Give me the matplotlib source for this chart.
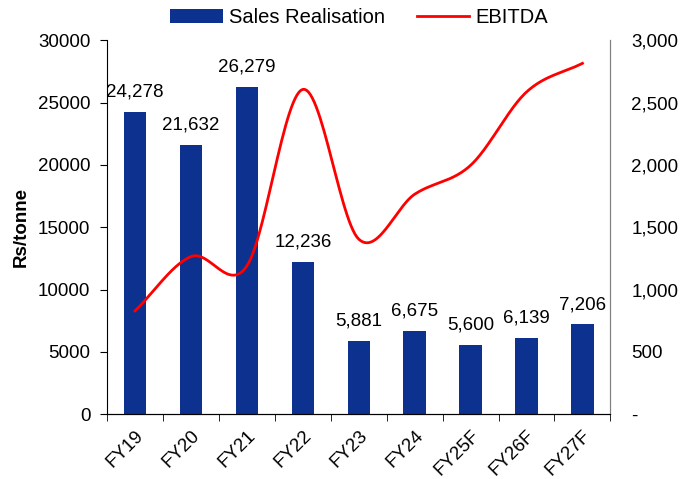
import matplotlib
matplotlib.use("Agg")
import matplotlib.pyplot as plt
from matplotlib.ticker import FuncFormatter
import numpy as np

plt.rcParams['font.family'] = ['Liberation Sans', 'DejaVu Sans']

years = ["FY19", "FY20", "FY21", "FY22", "FY23", "FY24", "FY25F", "FY26F", "FY27F"]
sales = [24278, 21632, 26279, 12236, 5881, 6675, 5600, 6139, 7206]
ebitda = [830, 1265, 1190, 2606, 1405, 1765, 1997, 2585, 2815]

bar_color = "#0c318f"
line_color = "#ff0000"


def smooth(xs, ys, n=30):
    # catmull-rom style curve through the points, like excel's smoothed line
    xs = np.asarray(xs, float)
    ys = np.asarray(ys, float)
    px = np.concatenate([[2 * xs[0] - xs[1]], xs, [2 * xs[-1] - xs[-2]]])
    py = np.concatenate([[2 * ys[0] - ys[1]], ys, [2 * ys[-1] - ys[-2]]])
    out_x, out_y = [], []
    t = np.linspace(0, 1, n)
    for i in range(1, len(px) - 2):
        for p, out in ((px, out_x), (py, out_y)):
            p0, p1, p2, p3 = p[i - 1], p[i], p[i + 1], p[i + 2]
            c = 0.5 * ((2 * p1) + (-p0 + p2) * t + (2 * p0 - 5 * p1 + 4 * p2 - p3) * t ** 2
                       + (-p0 + 3 * p1 - 3 * p2 + p3) * t ** 3)
            out.extend(c)
    return np.array(out_x), np.array(out_y)


fig = plt.figure(figsize=(7, 4.79), dpi=100)
ax = fig.add_axes([0.153, 0.135, 0.719, 0.781])
x = np.arange(len(years))
bars = ax.bar(x, sales, width=0.4, color=bar_color, label="Sales Realisation", zorder=2)
for xi, v in zip(x, sales):
    ax.text(xi, v + 900, f"{v:,}", ha="center", va="bottom", fontsize=13.5)

ax.set_xlim(-0.5, len(years) - 0.5)
ax.set_ylim(0, 30000)
ax.set_yticks(range(0, 30001, 5000))
ax.set_xticks(x)
ax.set_xticklabels(years, rotation=45, ha="right", rotation_mode="anchor", fontsize=13.5)
ax.set_xticks(np.arange(-0.5, len(years)), minor=True)
ax.tick_params(axis="x", which="major", length=0, pad=9)
ax.tick_params(axis="x", which="minor", length=5, direction="out")
ax.tick_params(axis="y", labelsize=13.5, length=5, direction="out", pad=7)
ax.set_ylabel("Rs/tonne", fontsize=13.5, fontweight="bold", labelpad=6)
ax.spines["top"].set_visible(False)
ax.spines["right"].set_color("#808080")

ax2 = ax.twinx()
sx, sy = smooth(x, ebitda)
ax2.plot(sx, sy, color=line_color, lw=2, label="EBITDA")
ax2.set_ylim(0, 3000)
ax2.set_yticks(range(0, 3001, 500))
ax2.yaxis.set_major_formatter(FuncFormatter(lambda v, p: "-" if v == 0 else f"{int(v):,}"))
ax2.tick_params(axis="y", labelsize=13.5, length=0, pad=15)
ax2.spines["top"].set_visible(False)
ax2.spines["right"].set_color("#808080")
ax2.spines["left"].set_visible(False)

h1, l1 = ax.get_legend_handles_labels()
h2, l2 = ax2.get_legend_handles_labels()
fig.legend(h1 + h2, l1 + l2, loc="center", bbox_to_anchor=(0.513, 0.963), ncol=2,
           frameon=False, fontsize=14.5, handlelength=2.6, handletextpad=0.3,
           columnspacing=1.6)

fig.savefig("out.png", dpi=100)
